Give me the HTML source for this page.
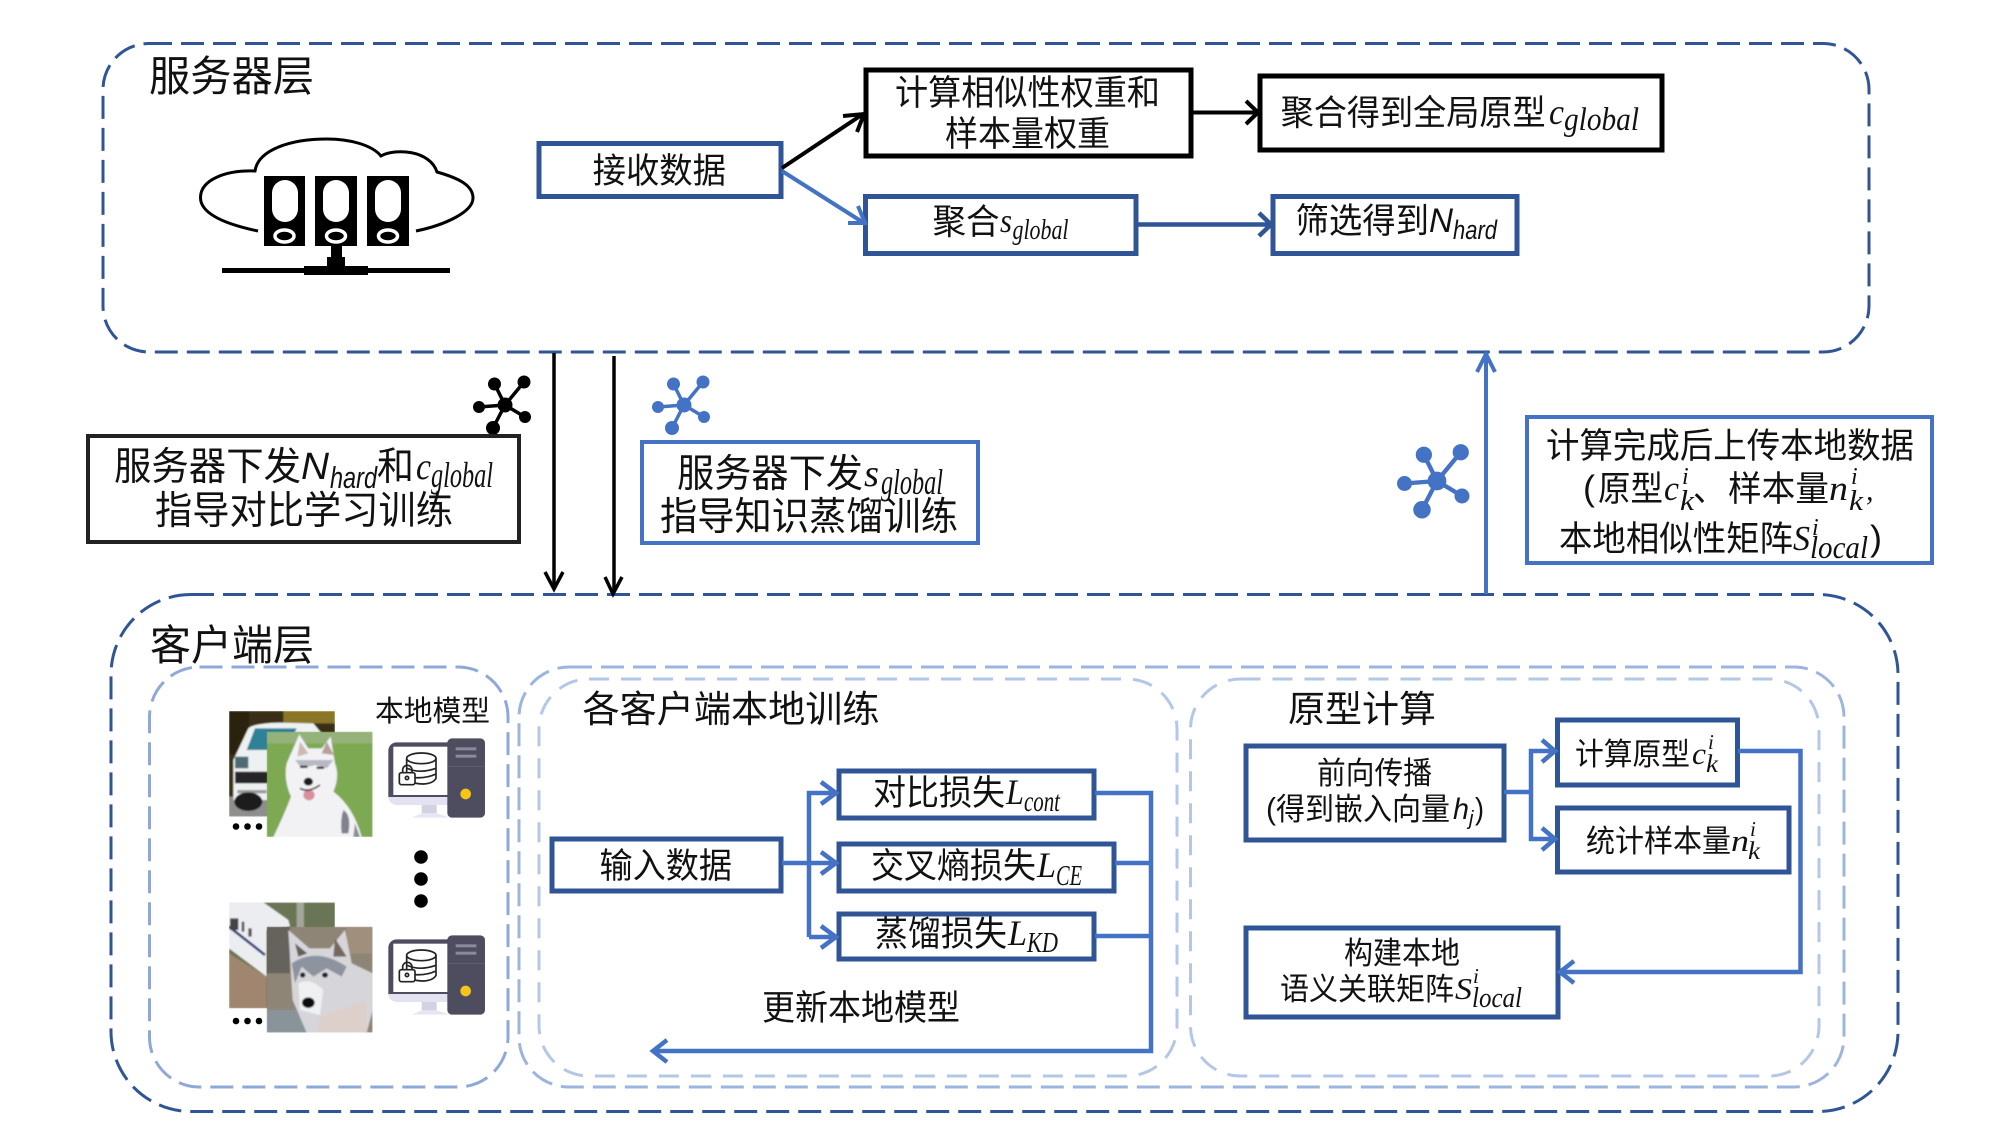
<!DOCTYPE html>
<html lang="zh"><head><meta charset="utf-8"><title>服务器层与客户端层</title>
<style>
html,body{margin:0;padding:0;background:#fff;width:2000px;height:1125px;overflow:hidden}
svg{display:block}
text{font-family:"Liberation Sans","Noto Sans CJK SC",sans-serif;fill:#111}
.m{font-family:"Liberation Serif",serif;font-style:italic}
.i{font-family:"Liberation Sans",sans-serif;font-style:italic}
</style></head><body>
<svg xmlns="http://www.w3.org/2000/svg" width="2000" height="1125" viewBox="0 0 2000 1125">
<defs><filter id="b" x="-5%" y="-5%" width="110%" height="110%"><feGaussianBlur stdDeviation="2.400"/></filter>
<filter id="b2" x="-10%" y="-10%" width="120%" height="120%"><feGaussianBlur stdDeviation="1"/></filter>
<clipPath id="cpa"><rect x="140" y="95" width="318" height="316"/></clipPath>
<clipPath id="cpb"><rect x="140" y="680" width="318" height="318"/></clipPath>
<clipPath id="cca"><rect x="27" y="33" width="318" height="317"/></clipPath>
<clipPath id="ccb"><rect x="27" y="607" width="318" height="318"/></clipPath>
<g id="pc" transform="translate(220 700) scale(.33333)">
<path d="M530 127H690V293H505V152a25 25 0 0 1 25-25z" fill="#4d4d5f"/>
<rect x="520" y="140" width="165" height="145" fill="#fff"/>
<path d="M505 291H690V315H530a25 25 0 0 1-25-24z" fill="#e2e2f0"/>
<rect x="605" y="315" width="45" height="25" fill="#d2d2e2"/><path d="M605 340H650L690 353H575Z" fill="#e6e6f2"/>
<rect x="682" y="115" width="113" height="238" rx="14" fill="#4d4d5f"/>
<rect x="707" y="142" width="62" height="9" fill="#8a8a9c"/><rect x="707" y="164" width="62" height="9" fill="#8a8a9c"/>
<rect x="684" y="198" width="109" height="2" fill="#646478"/>
<circle cx="737" cy="282" r="16" fill="#f5c518"/>
<g fill="none" stroke="#222" stroke-width="5"><ellipse cx="604" cy="175" rx="44" ry="16"/><path d="M560 175V235Q575 252 610 252Q640 250 648 235V175M562 205Q600 222 648 205M585 233Q620 235 648 222"/>
<rect x="538" y="218" width="47" height="36" rx="6" fill="#fff"/><path d="M548 218v-8a14 14 0 0 1 28 0v8"/><circle cx="561" cy="234" r="5"/></g>
</g>
<g id="net"><path d="M0 0L-10.500-21M0 0L19-23M0 0L-26 2M0 0L20 12M0 0L-12 23" fill="none" stroke="currentColor" stroke-width="3.500"/><circle r="7.500" fill="currentColor"/><circle cx="-10.500" cy="-21" r="6.500" fill="currentColor"/><circle cx="19" cy="-23" r="6.500" fill="currentColor"/><circle cx="-26" cy="2" r="6" fill="currentColor"/><circle cx="20" cy="12" r="6" fill="currentColor"/><circle cx="-12" cy="23" r="7" fill="currentColor"/></g>
</defs>

<!-- dashed frames -->
<g fill="none">
<rect x="103" y="43.500" width="1766" height="308.500" rx="46" stroke="#2f5597" stroke-width="3" stroke-dasharray="23 9"/>
<rect x="111" y="594.500" width="1787" height="517" rx="80" stroke="#2f5597" stroke-width="3" stroke-dasharray="23 9"/>
<rect x="149.500" y="667" width="358.500" height="420" rx="50" stroke="#8ea9d8" stroke-width="3" stroke-dasharray="23 9"/>
<rect x="519" y="667" width="1325" height="420" rx="50" stroke="#9db5de" stroke-width="3" stroke-dasharray="23 9"/>
<rect x="539" y="679" width="638" height="397" rx="50" stroke="#b4c7e7" stroke-width="3" stroke-dasharray="20 12"/>
<rect x="1190.500" y="679" width="628.500" height="397" rx="50" stroke="#b4c7e7" stroke-width="3" stroke-dasharray="20 12"/>
</g>

<!-- headings -->
<text x="149" y="91" font-size="42" textLength="165" lengthAdjust="spacingAndGlyphs">服务器层</text>
<text x="150" y="660" font-size="42" textLength="164" lengthAdjust="spacingAndGlyphs">客户端层</text>
<text x="582.500" y="722" font-size="37" textLength="297" lengthAdjust="spacingAndGlyphs">各客户端本地训练</text>
<text x="1288" y="722" font-size="37" textLength="148" lengthAdjust="spacingAndGlyphs">原型计算</text>
<text x="375" y="721" font-size="29" textLength="115" lengthAdjust="spacingAndGlyphs">本地模型</text>

<!-- cloud server -->
<path d="M258 231C215 222 200 210 200.500 197C201 180 225 170 255 171C258 150 290 139 327 139C350 139 372 145 381 156C395 148 430 150 437 172C458 178 473 185 473 198C473 212 445 225 416 231" fill="none" stroke="#000" stroke-width="3"/>
<g fill="#000"><rect x="264" y="176" width="41" height="70"/><rect x="315" y="176" width="42" height="70"/><rect x="367" y="176" width="42" height="70"/>
<rect x="331" y="246" width="11" height="14"/><rect x="327" y="257" width="18" height="10"/><rect x="304" y="266" width="64" height="9"/><rect x="222" y="268" width="228" height="5"/></g>
<g fill="#fff"><rect x="272" y="180" width="26" height="42" rx="13"/><rect x="323" y="180" width="26" height="42" rx="13"/><rect x="375" y="180" width="26" height="42" rx="13"/></g>
<g fill="none" stroke="#fff" stroke-width="3.500"><ellipse cx="284.500" cy="236" rx="9.500" ry="6"/><ellipse cx="336" cy="236" rx="9.500" ry="6"/><ellipse cx="388" cy="236" rx="9.500" ry="6"/></g>

<!-- server boxes -->
<g fill="#fff" stroke-width="5">
<rect x="539" y="143.500" width="242" height="53" stroke="#2f5597"/>
<rect x="868" y="70" width="329" height="86" stroke="#000" transform="translate(-2 0) scale(1 1)" style="display:none"/>
<rect x="866" y="70" width="325" height="86" stroke="#000"/>
<rect x="1260" y="76" width="402" height="74" stroke="#000"/>
<rect x="865.500" y="196.500" width="270.500" height="57" stroke="#2f5597"/>
<rect x="1273" y="196.500" width="244" height="57" stroke="#2f5597"/>
</g>
<text x="592.600" y="183" font-size="35" textLength="133.400" lengthAdjust="spacingAndGlyphs">接收数据</text>
<text x="895" y="105" font-size="35" textLength="265" lengthAdjust="spacingAndGlyphs">计算相似性权重和</text>
<text x="945" y="146" font-size="35" textLength="165" lengthAdjust="spacingAndGlyphs">样本量权重</text>
<text x="1280.600" y="125" font-size="35" textLength="265" lengthAdjust="spacingAndGlyphs">聚合得到全局原型</text>
<text class="m" x="1549" y="124" font-size="36" textLength="15" lengthAdjust="spacingAndGlyphs">c</text><text class="m" x="1564" y="130" font-size="33" textLength="75" lengthAdjust="spacingAndGlyphs">global</text>
<text x="932.500" y="234" font-size="35" textLength="67" lengthAdjust="spacingAndGlyphs">聚合</text>
<text class="m" x="1000" y="232" font-size="34" textLength="12" lengthAdjust="spacingAndGlyphs">s</text><text class="m" x="1012.500" y="239" font-size="29" textLength="56" lengthAdjust="spacingAndGlyphs">global</text>
<text x="1295.500" y="233" font-size="35" textLength="133.500" lengthAdjust="spacingAndGlyphs">筛选得到</text>
<text class="i" x="1429" y="232" font-size="34" textLength="24" lengthAdjust="spacingAndGlyphs">N</text><text class="i" x="1453" y="239" font-size="27" textLength="44" lengthAdjust="spacingAndGlyphs">hard</text>

<!-- server arrows -->
<g fill="none" stroke="#000" stroke-width="4"><path d="M782 168L863 114"/><path d="M843 116L864 114L857 132"/><path d="M1191 112.500H1257"/><path d="M1246 101L1258 112.500L1246 124"/></g>
<g fill="none" stroke="#4472c4" stroke-width="4"><path d="M782 171L864 223"/><path d="M848 223H865L858 206"/></g>
<g fill="none" stroke="#2f5597" stroke-width="4.500"><path d="M1136 224.500H1270"/><path d="M1259 213L1271 224.500L1259 236"/></g>

<!-- downward black -->
<g fill="none" stroke="#000" stroke-width="3.500"><path d="M554 353V587"/><path d="M545 572L554 589L563 572"/><path d="M614 356V592"/><path d="M605 577L613 594L622 577"/></g>
<use href="#net" x="505" y="405" color="#000"/><use href="#net" x="684" y="405" color="#4472c4"/>
<g transform="translate(1437 481) scale(1.250)"><use href="#net" color="#4472c4"/></g>

<rect x="88" y="436" width="431" height="106" fill="#fff" stroke="#222" stroke-width="4"/>
<text x="114" y="480" font-size="39" textLength="187" lengthAdjust="spacingAndGlyphs">服务器下发</text>
<text class="i" x="301" y="479" font-size="38" textLength="28" lengthAdjust="spacingAndGlyphs">N</text><text class="i" x="330" y="488" font-size="31" textLength="47" lengthAdjust="spacingAndGlyphs">hard</text>
<text x="377" y="480" font-size="39" textLength="37" lengthAdjust="spacingAndGlyphs">和</text>
<text class="m" x="416" y="479" font-size="38" textLength="15" lengthAdjust="spacingAndGlyphs">c</text><text class="m" x="431" y="487" font-size="36" textLength="62" lengthAdjust="spacingAndGlyphs">global</text>
<text x="155" y="524" font-size="39" textLength="298" lengthAdjust="spacingAndGlyphs">指导对比学习训练</text>

<rect x="642" y="442" width="336" height="101" fill="#fff" stroke="#4472c4" stroke-width="4"/>
<text x="677" y="487" font-size="39" textLength="186" lengthAdjust="spacingAndGlyphs">服务器下发</text>
<text class="m" x="864" y="486" font-size="38" textLength="15" lengthAdjust="spacingAndGlyphs">s</text><text class="m" x="881" y="494" font-size="36" textLength="62" lengthAdjust="spacingAndGlyphs">global</text>
<text x="660" y="530" font-size="39" textLength="298" lengthAdjust="spacingAndGlyphs">指导知识蒸馏训练</text>

<!-- upload -->
<g fill="none" stroke="#4472c4" stroke-width="4"><path d="M1486 594V355"/><path d="M1477 372L1486 354L1495 372"/></g>
<rect x="1527" y="417" width="405" height="146" fill="#fff" stroke="#4472c4" stroke-width="4"/>
<text x="1546" y="458" font-size="35" textLength="368" lengthAdjust="spacingAndGlyphs">计算完成后上传本地数据</text>
<text x="1583" y="500" font-size="35" textLength="12" lengthAdjust="spacingAndGlyphs">(</text>
<text x="1598" y="501" font-size="35" textLength="65" lengthAdjust="spacingAndGlyphs">原型</text>
<text class="m" x="1664" y="500" font-size="35" textLength="15" lengthAdjust="spacingAndGlyphs">c</text><text class="m" x="1682" y="484" font-size="24">i</text><text class="m" x="1680" y="510" font-size="28" textLength="14" lengthAdjust="spacingAndGlyphs">k</text>
<text x="1693" y="501" font-size="35" textLength="33" lengthAdjust="spacingAndGlyphs">、</text>
<text x="1728" y="501" font-size="35" textLength="101" lengthAdjust="spacingAndGlyphs">样本量</text>
<text class="m" x="1829" y="500" font-size="35" textLength="19" lengthAdjust="spacingAndGlyphs">n</text><text class="m" x="1851" y="484" font-size="24">i</text><text class="m" x="1849" y="510" font-size="28" textLength="14" lengthAdjust="spacingAndGlyphs">k</text>
<text class="m" x="1866" y="500" font-size="30">,</text>
<text x="1559" y="551" font-size="35" textLength="234" lengthAdjust="spacingAndGlyphs">本地相似性矩阵</text>
<text class="m" x="1793" y="550" font-size="35" textLength="17" lengthAdjust="spacingAndGlyphs">S</text><text class="m" x="1812" y="535" font-size="24">i</text><text class="m" x="1810" y="558" font-size="32" textLength="58" lengthAdjust="spacingAndGlyphs">local</text>
<text x="1870" y="550" font-size="35" textLength="12" lengthAdjust="spacingAndGlyphs">)</text>

<!-- photos -->
<g transform="translate(220 700) scale(.33333)">
<g clip-path="url(#cca)" filter="url(#b)">
<rect x="27" y="33" width="318" height="317" fill="#3a2e16"/><path d="M190 33H345V70H190Z" fill="#8a7628"/><rect x="27" y="33" width="60" height="130" fill="#2a2010"/>
<path d="M27 290H345V350H27Z" fill="#8d8f8c"/>
<path d="M40 290V180L85 85Q100 70 180 68L280 70L330 130V300H40Z" fill="#eef1f2"/>
<path d="M80 150L105 85H230L200 150Z" fill="#2f8196"/>
<path d="M45 170H85V205H45Z" fill="#4f6a72"/><rect x="45" y="215" width="100" height="35" fill="#262626"/><rect x="52" y="270" width="88" height="10" fill="#999"/>
<ellipse cx="85" cy="305" rx="42" ry="28" fill="#1c1c1c"/>
</g>
<g clip-path="url(#cpa)" filter="url(#b)">
<rect x="140" y="95" width="318" height="316" fill="#7ea953"/><rect x="140" y="95" width="318" height="35" fill="#94b27a"/>
<path d="M160 411Q190 350 213 290Q190 240 200 190L238 103L265 145H305L332 110L345 190Q360 230 340 275Q400 320 425 411Z" fill="#f2f2f5"/>
<path d="M240 125L265 160L232 170Z" fill="#cdb9b2"/><path d="M320 125L342 165L305 160Z" fill="#b89f98"/>
<path d="M225 180H340L320 205L285 195L245 205Z" fill="#b8b8c4"/>
<path d="M370 330Q395 345 385 400H365Q360 360 370 330Z" fill="#7f818d"/>
<path d="M405 370L420 411H400Z" fill="#8b8d98"/>
<ellipse cx="265" cy="245" rx="14" ry="12" fill="#1a1a1a"/>
<ellipse cx="267" cy="285" rx="17" ry="16" fill="#d98f9b"/>
<path d="M240 265Q265 280 300 255" stroke="#333" stroke-width="5" fill="none"/>
<rect x="240" y="197" width="22" height="7" fill="#333"/><rect x="290" y="200" width="22" height="7" fill="#333"/>
</g>
<g clip-path="url(#ccb)" filter="url(#b)">
<rect x="27" y="607" width="318" height="318" fill="#6a7455"/><rect x="230" y="607" width="22" height="80" fill="#a3a69a"/>
<path d="M27 760L140 830V925H27Z" fill="#a0866e"/>
<path d="M27 607H130L205 660L210 680L140 690V830L27 745Z" fill="#ecedf0"/>
<path d="M27 680L135 765" stroke="#2c3f7c" stroke-width="8" fill="none"/>
<rect x="30" y="655" width="25" height="35" fill="#444"/><rect x="65" y="665" width="8" height="30" fill="#555"/><rect x="85" y="685" width="10" height="25" fill="#555"/>
</g>
<g clip-path="url(#cpb)" filter="url(#b)">
<rect x="140" y="680" width="318" height="318" fill="#8f8577"/><rect x="140" y="680" width="70" height="140" fill="#66625c"/><rect x="140" y="930" width="120" height="68" fill="#88949a"/><rect x="380" y="680" width="78" height="80" fill="#a08f7c"/>
<path d="M260 998L218 900L205 690L268 745H330L375 690L395 790L458 820V930L440 998Z" fill="#d6d6da"/>
<path d="M225 730L262 760L235 770Z" fill="#66605a"/><path d="M345 715L380 770L340 770Z" fill="#75685e"/>
<path d="M215 790Q290 740 380 800L365 830L320 805L280 830L245 800L225 850Z" fill="#8d949f"/>
<path d="M235 850Q270 830 310 870L300 945L240 930Z" fill="#eff0f2"/>
<path d="M300 950L440 900L440 998H290Z" fill="#ddcfc9"/>
<ellipse cx="265" cy="908" rx="19" ry="16" fill="#111"/>
<ellipse cx="248" cy="825" rx="8" ry="8" fill="#223"/><ellipse cx="315" cy="825" rx="9" ry="8" fill="#223"/>
</g>
</g>
<g fill="#000"><circle cx="236" cy="826.500" r="3.300"/><circle cx="247.500" cy="826.500" r="3.300"/><circle cx="259" cy="826.500" r="3.300"/><circle cx="236" cy="1021" r="3.300"/><circle cx="247.500" cy="1021" r="3.300"/><circle cx="259" cy="1021" r="3.300"/><circle cx="421" cy="857" r="6.800"/><circle cx="421" cy="879" r="6.800"/><circle cx="421" cy="901" r="6.800"/></g>
<use href="#pc"/><use href="#pc" y="197"/>

<!-- training -->
<g fill="#fff" stroke="#2f5597" stroke-width="5">
<rect x="552" y="839" width="229" height="52"/><rect x="839" y="771" width="255" height="47"/><rect x="839" y="844" width="275" height="47"/><rect x="839" y="914" width="255" height="45"/>
</g>
<text x="599.500" y="878" font-size="35" textLength="132.500" lengthAdjust="spacingAndGlyphs">输入数据</text>
<text x="873" y="805" font-size="35" textLength="132" lengthAdjust="spacingAndGlyphs">对比损失</text>
<text class="m" x="1006" y="804" font-size="36" textLength="18" lengthAdjust="spacingAndGlyphs">L</text><text class="m" x="1024" y="811" font-size="30" textLength="36" lengthAdjust="spacingAndGlyphs">cont</text>
<text x="871" y="878" font-size="35" textLength="165" lengthAdjust="spacingAndGlyphs">交叉熵损失</text>
<text class="m" x="1037" y="877" font-size="36" textLength="19" lengthAdjust="spacingAndGlyphs">L</text><text class="m" x="1056" y="885" font-size="29" textLength="26" lengthAdjust="spacingAndGlyphs">CE</text>
<text x="875" y="946" font-size="35" textLength="132" lengthAdjust="spacingAndGlyphs">蒸馏损失</text>
<text class="m" x="1008" y="945" font-size="36" textLength="19" lengthAdjust="spacingAndGlyphs">L</text><text class="m" x="1027" y="952" font-size="29" textLength="31" lengthAdjust="spacingAndGlyphs">KD</text>
<text x="762" y="1020" font-size="35" textLength="198" lengthAdjust="spacingAndGlyphs">更新本地模型</text>
<g fill="none" stroke="#4472c4" stroke-width="4.500">
<path d="M782 863H836M809 937V793H836M809 937H836"/><path d="M821 782L836 793L821 804M821 852L836 863L821 874M821 926L836 937L821 948"/>
<path d="M1095 793H1151V1051H654M1115 863H1151M1095 936H1151"/><path d="M667 1040L653 1051L667 1062"/>
</g>

<!-- prototype -->
<g fill="#fff" stroke="#2f5597" stroke-width="5">
<rect x="1246" y="746" width="258" height="94"/><rect x="1557.500" y="720" width="180" height="65"/><rect x="1557.500" y="808" width="231.500" height="64"/><rect x="1246" y="928" width="312" height="89"/>
</g>
<text x="1317" y="784" font-size="31" textLength="115" lengthAdjust="spacingAndGlyphs">前向传播</text>
<text x="1266" y="819" font-size="31" textLength="10" lengthAdjust="spacingAndGlyphs">(</text>
<text x="1276" y="820" font-size="31" textLength="174" lengthAdjust="spacingAndGlyphs">得到嵌入向量</text>
<text class="i" x="1453" y="819" font-size="30" textLength="16" lengthAdjust="spacingAndGlyphs">h</text><text class="i" x="1469" y="825" font-size="20">j</text><text x="1475" y="819" font-size="31" textLength="9" lengthAdjust="spacingAndGlyphs">)</text>
<text x="1575" y="765" font-size="31" textLength="115" lengthAdjust="spacingAndGlyphs">计算原型</text>
<text class="m" x="1692" y="764" font-size="31" textLength="14" lengthAdjust="spacingAndGlyphs">c</text><text class="m" x="1708" y="749" font-size="21">i</text><text class="m" x="1706" y="772" font-size="25" textLength="12" lengthAdjust="spacingAndGlyphs">k</text>
<text x="1586" y="852" font-size="31" textLength="145" lengthAdjust="spacingAndGlyphs">统计样本量</text>
<text class="m" x="1731" y="851" font-size="31" textLength="18" lengthAdjust="spacingAndGlyphs">n</text><text class="m" x="1750" y="836" font-size="21">i</text><text class="m" x="1748" y="859" font-size="25" textLength="12" lengthAdjust="spacingAndGlyphs">k</text>
<text x="1344" y="964" font-size="31" textLength="116" lengthAdjust="spacingAndGlyphs">构建本地</text>
<text x="1280" y="1000" font-size="31" textLength="174" lengthAdjust="spacingAndGlyphs">语义关联矩阵</text>
<text class="m" x="1455" y="999" font-size="31" textLength="17" lengthAdjust="spacingAndGlyphs">S</text><text class="m" x="1473" y="983" font-size="21">i</text><text class="m" x="1472" y="1007" font-size="29" textLength="50" lengthAdjust="spacingAndGlyphs">local</text>
<g fill="none" stroke="#4472c4" stroke-width="4.500">
<path d="M1504 792H1531M1555 751H1531V839H1555"/><path d="M1542 740L1555 751L1542 762M1542 828L1555 839L1542 850"/>
<path d="M1738 751H1800.500V972H1560"/><path d="M1574 961L1560 972L1574 983"/>
</g>
</svg>
</body></html>
